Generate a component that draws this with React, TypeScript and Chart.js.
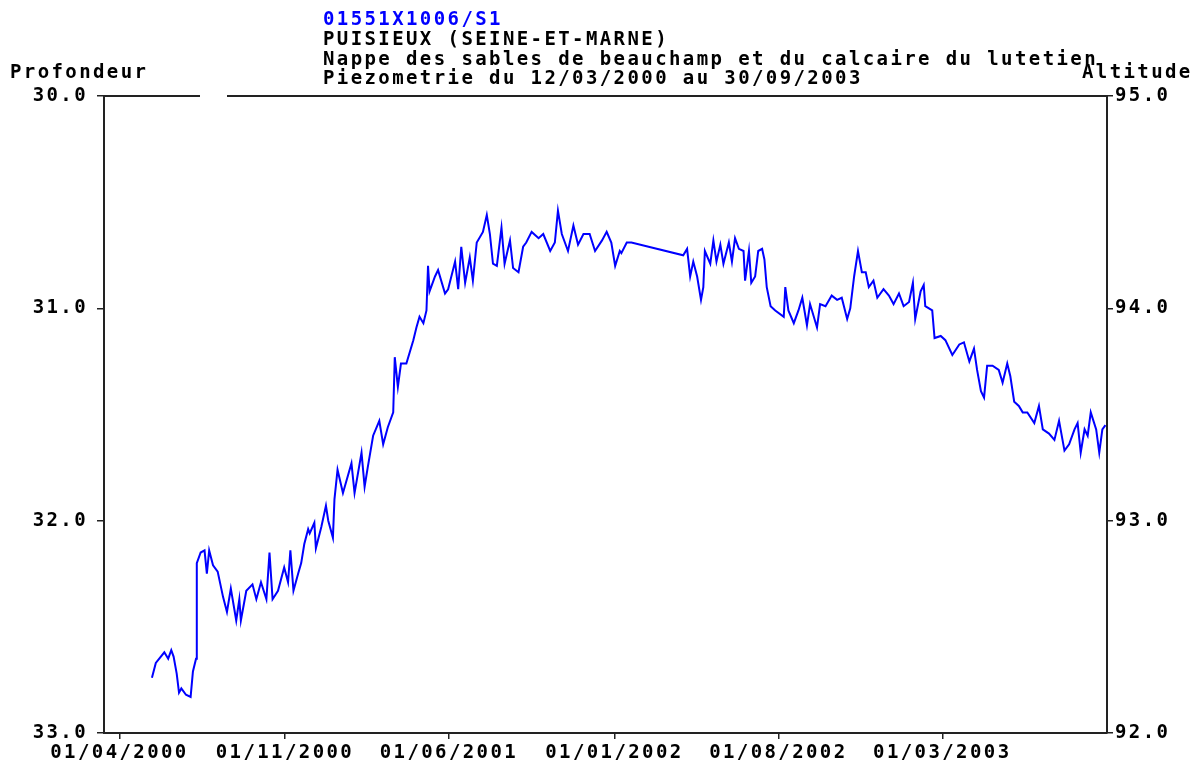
import React, { useEffect, useRef } from "react";
import { Chart, registerables } from "chart.js";

Chart.register(...registerables);

const TITLE_CODE = "01551X1006/S1";
const TITLE_LINES = [
  "PUISIEUX (SEINE-ET-MARNE)",
  "Nappe des sables de beauchamp et du calcaire du lutetien",
  "Piezometrie du 12/03/2000 au 30/09/2003",
];
const LEFT_AXIS_TITLE = "Profondeur";
const RIGHT_AXIS_TITLE = "Altitude";

const X_MIN = "2000-03-12";
const X_MAX = "2003-09-30";
const X_TICKS = ["2000-04-01", "2000-11-01", "2001-06-01", "2002-01-01", "2002-08-01", "2003-03-01"];
const DEPTH_TICKS = [30, 31, 32, 33];
const ALT_TICKS = [92, 93, 94, 95];

const DATES = [
  "2000-05-13","2000-05-18","2000-05-29","2000-06-03","2000-06-07","2000-06-10","2000-06-14","2000-06-17",
  "2000-06-20","2000-06-26","2000-07-02","2000-07-05","2000-07-09","2000-07-10","2000-07-15","2000-07-20",
  "2000-07-23","2000-07-26","2000-07-31","2000-08-06","2000-08-13","2000-08-18","2000-08-23","2000-08-30",
  "2000-09-03","2000-09-05","2000-09-12","2000-09-20","2000-09-25","2000-10-01","2000-10-08","2000-10-12",
  "2000-10-16","2000-10-23","2000-10-31","2000-11-05","2000-11-08","2000-11-12","2000-11-18","2000-11-22",
  "2000-11-26","2000-12-01","2000-12-03","2000-12-09","2000-12-11","2000-12-18","2000-12-24","2000-12-27",
  "2001-01-02","2001-01-04","2001-01-08","2001-01-15","2001-01-26","2001-01-30","2001-02-08","2001-02-12",
  "2001-02-16","2001-02-23","2001-03-03","2001-03-08","2001-03-14","2001-03-21","2001-03-23","2001-03-27",
  "2001-03-31","2001-04-07","2001-04-16","2001-04-20","2001-04-24","2001-04-29","2001-05-03","2001-05-05",
  "2001-05-07","2001-05-14","2001-05-18","2001-05-27","2001-05-31","2001-06-09","2001-06-13","2001-06-17",
  "2001-06-22","2001-06-28","2001-07-02","2001-07-07","2001-07-15","2001-07-20","2001-07-24","2001-07-28",
  "2001-08-02","2001-08-08","2001-08-12","2001-08-19","2001-08-23","2001-08-30","2001-09-05","2001-09-09",
  "2001-09-16","2001-09-25","2001-10-01","2001-10-10","2001-10-16","2001-10-20","2001-10-25","2001-11-02",
  "2001-11-09","2001-11-15","2001-11-22","2001-11-30","2001-12-07","2001-12-16","2001-12-22","2001-12-28",
  "2002-01-02","2002-01-08","2002-01-10","2002-01-17","2002-01-23","2002-03-31","2002-04-05","2002-04-09",
  "2002-04-13","2002-04-18","2002-04-23","2002-04-26","2002-04-28","2002-05-05","2002-05-09","2002-05-13",
  "2002-05-18","2002-05-22","2002-05-29","2002-06-02","2002-06-06","2002-06-11","2002-06-17","2002-06-19",
  "2002-06-24","2002-06-27","2002-07-02","2002-07-06","2002-07-11","2002-07-14","2002-07-17","2002-07-22",
  "2002-07-28","2002-08-08","2002-08-10","2002-08-14","2002-08-21","2002-08-27","2002-09-01","2002-09-07",
  "2002-09-11","2002-09-20","2002-09-24","2002-10-01","2002-10-09","2002-10-16","2002-10-22","2002-10-29",
  "2002-11-02","2002-11-07","2002-11-12","2002-11-17","2002-11-22","2002-11-26","2002-12-02","2002-12-07",
  "2002-12-15","2002-12-22","2002-12-28","2003-01-04","2003-01-10","2003-01-17","2003-01-22","2003-01-25",
  "2003-02-01","2003-02-05","2003-02-07","2003-02-16","2003-02-19","2003-02-27","2003-03-05","2003-03-14",
  "2003-03-23","2003-03-29","2003-04-05","2003-04-11","2003-04-15","2003-04-20","2003-04-24","2003-04-28",
  "2003-05-05","2003-05-13","2003-05-18","2003-05-24","2003-05-28","2003-06-02","2003-06-08","2003-06-13",
  "2003-06-19","2003-06-28","2003-07-04","2003-07-09","2003-07-17","2003-07-24","2003-07-30","2003-08-06",
  "2003-08-12","2003-08-19","2003-08-23","2003-08-27","2003-09-01","2003-09-05","2003-09-09","2003-09-16",
  "2003-09-20","2003-09-24","2003-09-28",
];

const DEPTHS = [
  32.74,32.67,32.62,32.65,32.61,32.64,32.72,32.81,
  32.79,32.82,32.83,32.71,32.65,32.20,32.15,32.14,
  32.25,32.14,32.21,32.24,32.36,32.43,32.32,32.47,
  32.37,32.47,32.33,32.30,32.37,32.29,32.37,32.15,
  32.37,32.33,32.22,32.29,32.14,32.33,32.25,32.20,
  32.11,32.04,32.06,32.01,32.13,32.03,31.93,32.00,
  32.08,31.90,31.76,31.87,31.73,31.87,31.68,31.84,
  31.75,31.60,31.53,31.64,31.56,31.49,31.23,31.37,
  31.26,31.26,31.15,31.09,31.04,31.07,31.01,30.80,
  30.92,30.85,30.82,30.93,30.91,30.78,30.91,30.71,
  30.88,30.76,30.87,30.69,30.64,30.56,30.65,30.79,
  30.80,30.62,30.79,30.68,30.81,30.83,30.71,30.69,
  30.64,30.67,30.65,30.73,30.69,30.54,30.65,30.73,
  30.61,30.70,30.65,30.65,30.73,30.68,30.64,30.69,
  30.80,30.73,30.74,30.69,30.69,30.75,30.72,30.85,
  30.78,30.85,30.96,30.90,30.73,30.79,30.68,30.78,
  30.70,30.79,30.69,30.78,30.67,30.72,30.73,30.87,
  30.73,30.88,30.85,30.73,30.72,30.77,30.90,30.99,
  31.01,31.04,30.90,31.01,31.07,31.01,30.95,31.08,
  30.98,31.09,30.98,30.99,30.94,30.96,30.95,31.05,
  31.00,30.85,30.73,30.83,30.83,30.90,30.87,30.95,
  30.91,30.94,30.98,30.93,30.99,30.97,30.88,31.05,
  30.92,30.89,30.99,31.01,31.14,31.13,31.15,31.22,
  31.17,31.16,31.25,31.19,31.29,31.39,31.42,31.27,
  31.27,31.29,31.35,31.26,31.32,31.44,31.46,31.49,
  31.49,31.54,31.46,31.57,31.59,31.62,31.53,31.67,
  31.64,31.57,31.54,31.68,31.57,31.60,31.49,31.57,
  31.68,31.57,31.55,
];

const FONT_FAMILY = '"DejaVu Sans Mono"';
const FONT_SIZE = 19;
const LETTER_SPACING = "2.4px";
const FONT_CSS = `bold ${FONT_SIZE}px ${FONT_FAMILY}`;

function fmtDate(v: number): string {
  const d = new Date(v);
  const dd = String(d.getUTCDate()).padStart(2, "0");
  const mm = String(d.getUTCMonth() + 1).padStart(2, "0");
  return `${dd}/${mm}/${d.getUTCFullYear()}`;
}

const textPlugin = {
  id: "piezoTexts",
  beforeUpdate(chart: any) {
    chart.ctx.letterSpacing = LETTER_SPACING;
  },
  beforeDraw(chart: any) {
    chart.ctx.letterSpacing = LETTER_SPACING;
  },
  afterDraw(chart: any) {
    const ctx = chart.ctx as CanvasRenderingContext2D;
    const area = chart.chartArea;
    ctx.save();
    ctx.letterSpacing = LETTER_SPACING;
    ctx.font = FONT_CSS;
    ctx.textAlign = "left";
    ctx.textBaseline = "alphabetic";
    ctx.fillStyle = "#0000ff";
    ctx.fillText(TITLE_CODE, 323, 25);
    ctx.fillStyle = "#000000";
    ctx.fillText(TITLE_LINES[0], 323, 45);
    ctx.fillText(TITLE_LINES[1], 323, 65);
    ctx.fillText(TITLE_LINES[2], 323, 84);
    ctx.fillText(LEFT_AXIS_TITLE, 10, 78);
    ctx.fillText(RIGHT_AXIS_TITLE, 1082, 78);
    ctx.strokeStyle = "#222222";
    ctx.lineWidth = 2;
    ctx.beginPath();
    ctx.moveTo(area.left, area.top);
    ctx.lineTo(200, area.top);
    ctx.moveTo(227, area.top);
    ctx.lineTo(area.right, area.top);
    ctx.stroke();
    ctx.restore();
  },
};

export default function App() {
  const ref = useRef<HTMLCanvasElement | null>(null);
  useEffect(() => {
    if (!ref.current) return;
    const points = DATES.map((d, i) => ({ x: Date.parse(d), y: DEPTHS[i] }));
    const xTickValues = X_TICKS.map((d) => Date.parse(d));
    const tickFont = { family: FONT_FAMILY, size: FONT_SIZE, weight: "bold" as const };
    const chart = new Chart(ref.current, {
      type: "line",
      data: {
        datasets: [
          {
            data: points,
            borderColor: "#0000ff",
            borderWidth: 2,
            pointRadius: 0,
            tension: 0,
            fill: false,
            yAxisID: "y",
          },
        ],
      },
      options: {
        responsive: false,
        animation: false,
        devicePixelRatio: 1,
        layout: { padding: { top: 96, left: 0, right: 0, bottom: 0 } },
        plugins: { legend: { display: false }, tooltip: { enabled: false }, title: { display: false } },
        scales: {
          x: {
            type: "linear",
            min: Date.parse(X_MIN),
            max: Date.parse(X_MAX),
            afterBuildTicks: (s: any) => {
              s.ticks = xTickValues.map((v) => ({ value: v }));
            },
            afterFit: (s: any) => {
              s.height = 43;
            },
            ticks: {
              autoSkip: false,
              maxRotation: 0,
              color: "#000",
              font: tickFont,
              padding: 3,
              callback: (v: any) => fmtDate(Number(v)),
            },
            grid: { drawOnChartArea: false, drawTicks: true, tickLength: 6, color: "#222", lineWidth: 1.5 },
            border: { display: true, color: "#222", width: 2 },
          },
          y: {
            type: "linear",
            position: "left",
            reverse: true,
            min: 30,
            max: 33,
            afterBuildTicks: (s: any) => {
              s.ticks = DEPTH_TICKS.map((v) => ({ value: v }));
            },
            afterFit: (s: any) => {
              s.width = 104;
            },
            ticks: {
              color: "#000",
              font: tickFont,
              padding: 9,
              callback: (v: any) => Number(v).toFixed(1),
            },
            grid: { drawOnChartArea: false, drawTicks: true, tickLength: 7, color: "#222", lineWidth: 1.5 },
            border: { display: true, color: "#222", width: 2 },
          },
          y2: {
            type: "linear",
            position: "right",
            display: true,
            min: 92,
            max: 95,
            afterBuildTicks: (s: any) => {
              s.ticks = ALT_TICKS.map((v) => ({ value: v }));
            },
            afterFit: (s: any) => {
              s.width = 92;
            },
            ticks: {
              color: "#000",
              font: tickFont,
              padding: 2,
              callback: (v: any) => Number(v).toFixed(1),
            },
            grid: { drawOnChartArea: false, drawTicks: true, tickLength: 6, color: "#222", lineWidth: 1.5 },
            border: { display: true, color: "#222", width: 2 },
          },
        },
      },
      plugins: [textPlugin],
    });
    return () => chart.destroy();
  }, []);
  return (
    <div style={{ position: "fixed", left: 0, top: 0, width: 1199, height: 776, background: "#fff" }}>
      <canvas ref={ref} width={1199} height={776} style={{ display: "block" }} />
    </div>
  );
}
